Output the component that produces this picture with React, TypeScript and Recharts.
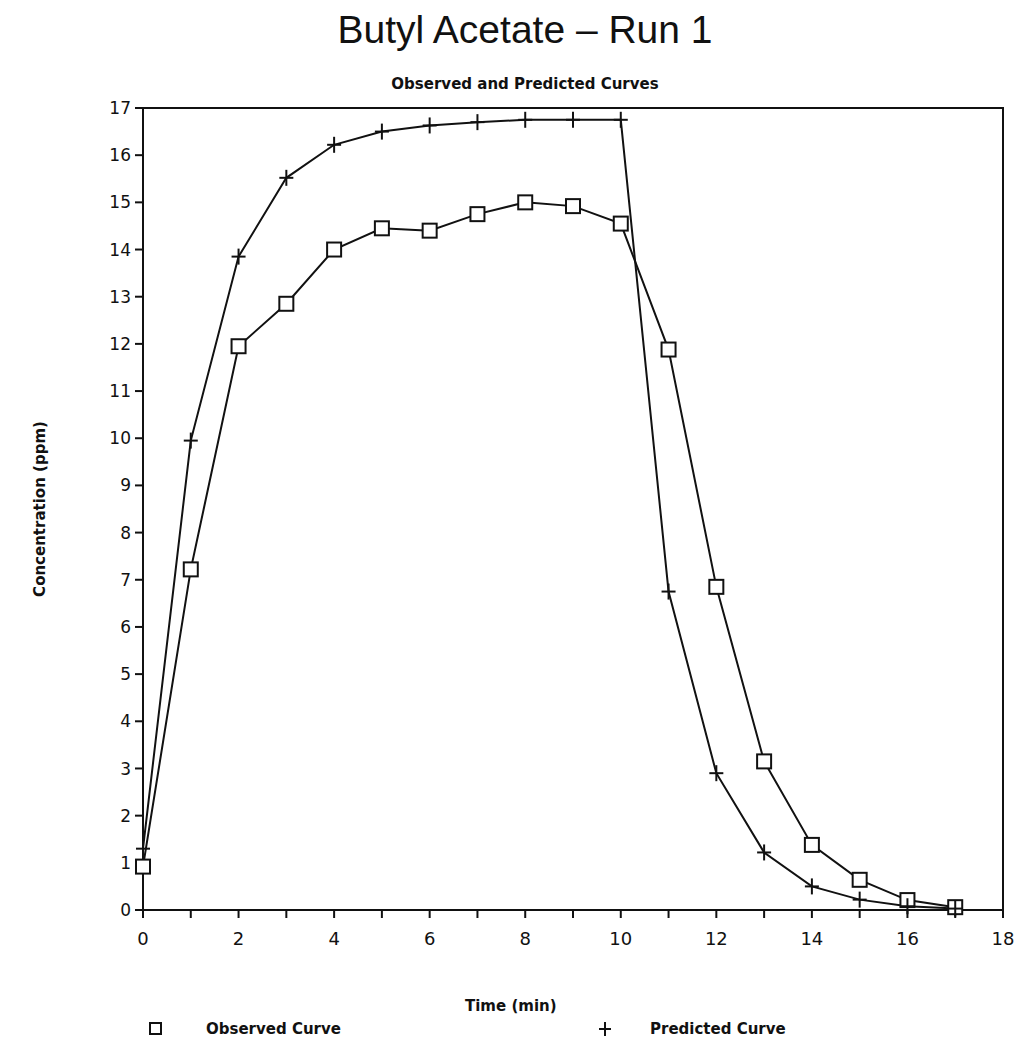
import React from 'react';
import { LineChart, Line, XAxis, YAxis, Label, ReferenceArea } from 'recharts';

const TIMES = [0, 1, 2, 3, 4, 5, 6, 7, 8, 9, 10, 11, 12, 13, 14, 15, 16, 17];
const OBSERVED = [0.92, 7.22, 11.95, 12.85, 14.0, 14.45, 14.4, 14.75, 15.0, 14.92, 14.55, 11.88, 6.85, 3.15, 1.38, 0.64, 0.21, 0.06];
const PREDICTED = [1.3, 9.95, 13.85, 15.52, 16.22, 16.5, 16.63, 16.7, 16.75, 16.75, 16.75, 6.75, 2.9, 1.22, 0.5, 0.22, 0.08, 0.03];
const X_TICKS = [0, 1, 2, 3, 4, 5, 6, 7, 8, 9, 10, 11, 12, 13, 14, 15, 16, 17, 18];
const Y_TICKS = [0, 1, 2, 3, 4, 5, 6, 7, 8, 9, 10, 11, 12, 13, 14, 15, 16, 17];

const FONT = '"DejaVu Sans", sans-serif';

const SquareDot = (props: any) => {
  const { cx, cy } = props;
  if (cx == null || cy == null) return null;
  return <rect x={cx - 7} y={cy - 7} width={14} height={14} fill="#fff" stroke="#111" strokeWidth={2} />;
};

const CrossDot = (props: any) => {
  const { cx, cy } = props;
  if (cx == null || cy == null) return null;
  return (
    <g stroke="#111" strokeWidth={2}>
      <line x1={cx - 7} y1={cy} x2={cx + 7} y2={cy} />
      <line x1={cx} y1={cy - 8} x2={cx} y2={cy + 8} />
    </g>
  );
};

export default function App() {
  React.useEffect(() => {
    document.body.style.margin = '0';
  }, []);

  const data = TIMES.map((t, i) => ({ t, observed: OBSERVED[i], predicted: PREDICTED[i] }));

  return (
    <div style={{ position: 'relative', width: 1020, height: 1050, background: '#fff', fontFamily: FONT, color: '#111' }}>
      <div style={{ position: 'absolute', top: 8, left: 0, width: 1050, textAlign: 'center', fontSize: 39, fontFamily: '"Liberation Sans", sans-serif' }}>
        Butyl Acetate – Run 1
      </div>
      <div style={{ position: 'absolute', top: 75, left: 0, width: 1050, textAlign: 'center', fontSize: 15, fontWeight: 'bold' }}>
        Observed and Predicted Curves
      </div>
      <LineChart width={1020} height={1050} data={data} margin={{ top: 108, right: 17, bottom: 90, left: 20 }}>
        <XAxis
          dataKey="t"
          type="number"
          domain={[0, 18]}
          ticks={X_TICKS}
          interval={0}
          tickFormatter={(v: number) => (v % 2 === 0 ? String(v) : '')}
          stroke="#111"
          strokeWidth={2}
          tickSize={8}
          tickMargin={14}
          tick={{ fill: '#111', fontSize: 18, fontFamily: FONT }}
          height={50}
        />
        <YAxis
          type="number"
          domain={[0, 17]}
          ticks={Y_TICKS}
          interval={0}
          stroke="#111"
          strokeWidth={2}
          tickSize={8}
          tickMargin={4}
          tick={{ fill: '#111', fontSize: 17, fontFamily: FONT }}
          width={123}
        >
          <Label value="Concentration (ppm)" angle={-90} position="insideLeft" offset={20} style={{ fill: '#111', fontSize: 15, fontWeight: 'bold', fontFamily: FONT, textAnchor: 'middle' }} />
        </YAxis>
        <ReferenceArea x1={0} x2={18} y1={0} y2={17} fill="none" stroke="#111" strokeWidth={2} />
        <Line dataKey="observed" stroke="#111" strokeWidth={2} dot={<SquareDot />} isAnimationActive={false} />
        <Line dataKey="predicted" stroke="#111" strokeWidth={2} dot={<CrossDot />} isAnimationActive={false} />
      </LineChart>
      <div style={{ position: 'absolute', top: 997, left: 465, fontSize: 15, fontWeight: 'bold' }}>Time (min)</div>
      <div style={{ position: 'absolute', top: 1020, left: 148, fontSize: 15, fontWeight: 'bold', display: 'flex', alignItems: 'center' }}>
        <svg width={16} height={16}><rect x={2} y={2} width={11} height={11} fill="#fff" stroke="#111" strokeWidth={2} /></svg>
        <span style={{ marginLeft: 42 }}>Observed Curve</span>
      </div>
      <div style={{ position: 'absolute', top: 1020, left: 597, fontSize: 15, fontWeight: 'bold', display: 'flex', alignItems: 'center' }}>
        <svg width={16} height={16}><g stroke="#111" strokeWidth={2}><line x1={2} y1={8} x2={14} y2={8} /><line x1={8} y1={1} x2={8} y2={15} /></g></svg>
        <span style={{ marginLeft: 37 }}>Predicted Curve</span>
      </div>
    </div>
  );
}
